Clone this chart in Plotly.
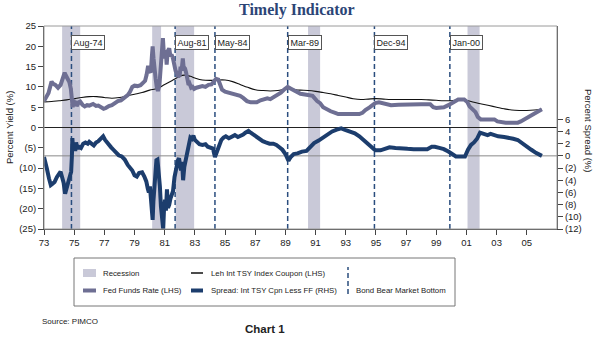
import plotly.graph_objects as go

# ---- data -------------------------------------------------------------
ff_year = [1973.0, 1973.15, 1973.3, 1973.5, 1973.6, 1973.75, 1973.93, 1974.1, 1974.25, 1974.37,
           1974.45, 1974.55, 1974.68, 1974.78, 1974.85, 1974.9, 1974.95, 1975.02, 1975.1, 1975.17,
           1975.3, 1975.4, 1975.55, 1975.7, 1975.85, 1976.0, 1976.25, 1976.45, 1976.6, 1976.8,
           1976.95, 1977.1, 1977.3, 1977.5, 1977.7, 1977.9, 1978.1, 1978.35, 1978.55, 1978.7,
           1978.85, 1979.0, 1979.2, 1979.4, 1979.55, 1979.7, 1979.8, 1979.9, 1980.0, 1980.08,
           1980.15, 1980.2, 1980.26, 1980.32, 1980.4, 1980.47, 1980.55, 1980.65, 1980.72, 1980.8,
           1980.88, 1980.93, 1981.0, 1981.07, 1981.13, 1981.2, 1981.3, 1981.38, 1981.45, 1981.55,
           1981.65, 1981.72, 1981.8, 1981.9, 1982.0, 1982.05, 1982.12, 1982.2, 1982.25, 1982.35,
           1982.42, 1982.5, 1982.58, 1982.65, 1982.75, 1982.85, 1982.95, 1983.1, 1983.3, 1983.5,
           1983.7, 1983.9, 1984.1, 1984.3, 1984.4, 1984.55, 1984.7, 1984.8, 1985.0, 1985.2,
           1985.5, 1985.8, 1986.0, 1986.2, 1986.45, 1986.7, 1986.9, 1987.1, 1987.35, 1987.6,
           1987.8, 1988.0, 1988.2, 1988.45, 1988.7, 1988.9, 1989.15, 1989.4, 1989.75, 1990.0,
           1990.5, 1990.8, 1991.1, 1991.3, 1991.5, 1991.8, 1992.0, 1992.3, 1992.5, 1993.0,
           1993.5, 1993.9, 1994.1, 1994.3, 1994.6, 1994.95, 1995.2, 1995.5, 1996.0, 1996.5,
           1997.0, 1997.5, 1998.0, 1998.6, 1998.8, 1999.0, 1999.5, 1999.8, 2000.05, 2000.3,
           2000.45, 2000.85, 2001.05, 2001.2, 2001.4, 2001.6, 2001.75, 2001.95, 2002.5, 2002.85,
           2003.05, 2003.3, 2003.6, 2004.0, 2004.4, 2004.6, 2004.9, 2005.2, 2005.5, 2005.8, 2006.0]
fed_funds = [6.5, 7.5, 8.5, 11.3, 10.8, 10.5, 9.8, 10.5, 12.0, 13.5,
             12.8, 12.0, 11.2, 9.5, 7.0, 5.0, 6.8, 6.0, 6.5, 5.3,
             6.2, 6.4, 5.6, 5.2, 5.5, 5.4, 5.8, 5.3, 5.4, 4.9,
             4.6, 4.8, 5.3, 5.5, 6.0, 6.5, 6.7, 7.3, 8.0, 8.8,
             10.0, 10.3, 10.2, 10.4, 10.8, 11.5, 13.0, 15.2, 14.0, 13.5,
             17.5, 20.0, 17.0, 15.5, 12.0, 10.0, 9.0, 10.5, 14.0, 18.0,
             22.0, 19.0, 17.0, 19.0, 15.5, 18.8, 19.5, 17.5, 18.0, 17.0,
             15.0, 14.0, 13.5, 12.5, 13.0, 15.0, 14.0, 17.0, 15.0, 14.5,
             13.5, 12.0, 10.5, 10.8, 9.8, 10.0, 9.5, 9.8, 10.0, 10.2,
             10.0, 10.5, 10.6, 11.8, 12.0, 11.8, 10.5, 9.3, 8.8, 8.6,
             8.2, 8.0, 7.8, 7.3, 6.5, 6.2, 6.3, 6.2, 6.7, 6.9,
             7.2, 7.0, 7.4, 7.9, 8.6, 9.3, 10.0, 9.5, 8.8, 8.3,
             8.0, 7.8, 6.5, 6.0, 5.0, 4.3, 4.0, 3.6, 3.3, 3.3,
             3.3, 3.3, 3.6, 4.3, 5.0, 6.0, 6.2, 5.9, 5.5, 5.6,
             5.7, 5.7, 5.7, 5.7, 5.0, 4.8, 5.0, 5.5, 6.0, 6.5,
             6.9, 6.9, 6.3, 5.2, 4.5, 3.8, 2.6, 2.0, 2.0, 2.0,
             1.5, 1.3, 1.2, 1.2, 1.2, 1.5, 2.1, 2.7, 3.3, 4.0, 4.5]

cpn_year = [1973.0, 1973.5, 1974.0, 1974.5, 1975.0, 1975.5, 1976.0, 1976.5, 1977.0, 1977.5,
            1978.0, 1978.5, 1979.0, 1979.5, 1980.0, 1980.5, 1981.0, 1981.5, 1982.0, 1982.3,
            1982.7, 1983.0, 1983.5, 1984.0, 1984.5, 1985.0, 1985.5, 1986.0, 1986.5, 1987.0,
            1987.5, 1988.0, 1988.5, 1989.0, 1989.3, 1989.7, 1990.0, 1990.5, 1991.0, 1991.5,
            1992.0, 1992.5, 1993.0, 1993.5, 1994.0, 1994.5, 1995.0, 1995.5, 1996.0, 1997.0,
            1998.0, 1998.5, 1999.0, 1999.5, 2000.0, 2000.5, 2001.0, 2001.5, 2002.0, 2002.5,
            2003.0, 2003.5, 2004.0, 2004.5, 2005.0, 2005.5, 2006.0]
tsy_coupon = [6.3, 6.4, 6.6, 6.8, 7.1, 7.4, 7.6, 7.6, 7.4, 7.2,
              7.4, 7.8, 8.2, 8.6, 9.2, 9.6, 10.6, 11.6, 12.6, 12.9,
              12.6, 12.2, 11.7, 11.6, 11.7, 11.7, 11.3, 10.6, 9.9, 9.3,
              9.1, 9.0, 9.1, 9.5, 9.6, 9.3, 9.2, 9.1, 8.9, 8.6,
              8.3, 7.9, 7.5, 7.1, 6.9, 7.0, 7.1, 7.0, 6.9, 6.9,
              6.9, 6.8, 6.7, 6.6, 6.6, 6.8, 6.7, 6.2, 5.8, 5.4,
              5.0, 4.6, 4.3, 4.2, 4.2, 4.3, 4.5]

spr_year = [1973.0, 1973.1, 1973.2, 1973.33, 1973.45, 1973.55, 1973.7, 1973.85, 1974.0, 1974.1,
            1974.2, 1974.3, 1974.4, 1974.47, 1974.55, 1974.7, 1974.8, 1974.85, 1974.88, 1974.93,
            1975.0, 1975.07, 1975.13, 1975.2, 1975.3, 1975.45, 1975.6, 1975.75, 1975.9, 1976.0,
            1976.15, 1976.3, 1976.45, 1976.6, 1976.8, 1976.92, 1977.05, 1977.25, 1977.45, 1977.6,
            1977.8, 1977.95, 1978.15, 1978.35, 1978.55, 1978.7, 1978.85, 1979.0, 1979.15, 1979.3,
            1979.5, 1979.65, 1979.78, 1979.88, 1979.95, 1980.02, 1980.08, 1980.15, 1980.2, 1980.25,
            1980.3, 1980.38, 1980.45, 1980.52, 1980.6, 1980.68, 1980.75, 1980.82, 1980.9, 1980.95,
            1981.02, 1981.08, 1981.15, 1981.22, 1981.3, 1981.38, 1981.45, 1981.55, 1981.65, 1981.72,
            1981.8, 1981.88, 1981.95, 1982.02, 1982.08, 1982.15, 1982.22, 1982.3, 1982.38, 1982.45,
            1982.52, 1982.6, 1982.7, 1982.8, 1982.9, 1983.0, 1983.15, 1983.3, 1983.5, 1983.7,
            1983.85, 1984.0, 1984.2, 1984.33, 1984.45, 1984.6, 1984.75, 1984.9, 1985.05, 1985.25,
            1985.45, 1985.65, 1985.85, 1986.0, 1986.2, 1986.35, 1986.55, 1986.7, 1986.9, 1987.1,
            1987.3, 1987.5, 1987.7, 1987.95, 1988.2, 1988.4, 1988.6, 1988.8, 1989.0, 1989.2,
            1989.35, 1989.55, 1989.8, 1990.1, 1990.4, 1990.7, 1990.9, 1991.2, 1991.5, 1991.8,
            1992.1, 1992.4, 1992.7, 1993.0, 1993.3, 1993.6, 1993.9, 1994.2, 1994.5, 1994.75,
            1994.95, 1995.3, 1995.6, 1995.9, 1996.3, 1996.7, 1997.1, 1997.5, 1998.0, 1998.4,
            1998.7, 1998.9, 1999.2, 1999.5, 1999.8, 2000.05, 2000.3, 2000.6, 2000.9, 2001.1,
            2001.3, 2001.5, 2001.7, 2001.9, 2002.2, 2002.4, 2002.6, 2002.85, 2003.1, 2003.5,
            2003.8, 2004.1, 2004.4, 2004.7, 2005.0, 2005.3, 2005.6, 2006.0]
spread = [-0.2, -1.0, -2.2, -3.7, -4.8, -4.6, -4.3, -3.5, -2.8, -2.6,
          -3.5, -4.4, -6.2, -5.5, -4.8, -3.8, -2.6, 0.0, 2.9, 1.2,
          1.8, 0.8, 2.2, 1.2, 1.5, 1.3, 2.0, 2.2, 2.0, 2.3,
          2.0, 1.7, 2.2, 2.4, 2.9, 3.2, 2.6, 1.9, 1.4, 1.0,
          0.4, 0.1, -0.1, -0.6, -1.5, -2.0, -2.4, -3.2, -3.4, -2.8,
          -2.7, -3.4, -4.2, -5.4, -6.0, -5.0, -6.5, -9.0, -10.5, -7.5,
          -5.0, -2.5, -0.7, -0.6, -2.5, -5.0, -8.3, -10.0, -12.0, -9.0,
          -7.2, -9.0, -5.5, -8.5, -8.0, -7.0, -6.5, -5.8, -3.5, -2.3,
          -1.0, -0.7, -0.4, -1.6, -2.4, -1.0, -4.0, -1.8, -0.8, 0.4,
          1.5, 2.3, 3.0, 2.8, 3.3, 2.6, 2.3, 1.9, 1.8, 1.9,
          1.5, 1.4, 1.2, -0.2, 0.6, 1.6, 2.6, 3.0, 3.2, 2.9,
          3.2, 3.4, 3.1, 3.2, 3.5, 3.8, 4.1, 3.8, 3.4, 3.2,
          2.8, 2.4, 2.2, 2.0, 2.0, 1.8, 1.4, 1.0, 0.3, -0.8,
          -0.2, 0.3, 0.4, 0.7, 0.8, 1.5, 2.1, 2.5, 3.0, 3.5,
          4.0, 4.3, 4.5, 4.2, 4.0, 3.7, 3.2, 2.6, 1.9, 1.3,
          0.9, 0.9, 1.2, 1.4, 1.3, 1.3, 1.15, 1.1, 1.1, 1.1,
          1.5, 1.5, 1.3, 1.1, 0.7, 0.3, -0.1, -0.1, -0.1, 1.0,
          1.8, 2.2, 2.8, 3.8, 3.6, 3.4, 3.6, 3.4, 3.2, 3.1,
          3.0, 2.8, 2.6, 2.0, 1.5, 1.0, 0.5, 0.0]

recession_start = [1974.2, 1980.17, 1981.72, 1990.5, 2001.07]
recession_end = [1975.4, 1980.76, 1982.95, 1991.3, 2001.87]

bottom_year = [1974.82, 1981.69, 1984.33, 1989.15, 1994.9, 1999.9]
bottom_label = ["Aug-74", "Aug-81", "May-84", "Mar-89", "Dec-94", "Jan-00"]

x_ticks = list(range(1973, 2006, 2))
x_ticktext = ["73", "75", "77", "79", "81", "83", "85", "87", "89", "91",
              "93", "95", "97", "99", "01", "03", "05"]
yield_ticks = [25, 20, 15, 10, 5, 0, -5, -10, -15, -20, -25]
yield_ticktext = ["25", "20", "15", "10", "5", "0", "(5)", "(10)", "(15)", "(20)", "(25)"]
spread_ticks = [6, 4, 2, 0, -2, -4, -6, -8, -10, -12]
spread_ticktext = ["6", "4", "2", "0", "(2)", "(4)", "(6)", "(8)", "(10)", "(12)"]

# ---- styling --------------------------------------------------------------
W, H = 595, 337
L, R, T, B = 44, 38, 26, 108
FF_COLOR = "#6e6f93"
SPREAD_COLOR = "#1c3d6d"
BAND_COLOR = "#c9c9d8"
DASH_COLOR = "#2a4d7e"
DASH_STYLE = "5px,3px"
TEXT_COLOR = "#222222"
FONT = "Liberation Sans, Arial, sans-serif"


def px_x(px):
    return (px - L) / (W - L - R)


def px_y(py):
    return (H - B - py) / (H - T - B)


fig = go.Figure()

fig.add_trace(go.Scatter(x=cpn_year, y=tsy_coupon, mode="lines", line=dict(color="#111111", width=1.1),
                         line_shape="spline", name="Leh Int TSY Index Coupon (LHS)", yaxis="y"))
fig.add_trace(go.Scatter(x=ff_year, y=fed_funds, mode="lines", line=dict(color=FF_COLOR, width=4),
                         name="Fed Funds Rate (LHS)", yaxis="y"))
fig.add_trace(go.Scatter(x=spr_year, y=spread, mode="lines", line=dict(color=SPREAD_COLOR, width=4),
                         name="Spread: Int TSY Cpn Less FF (RHS)", yaxis="y2"))

shapes = []
for s, e in zip(recession_start, recession_end):
    shapes.append(dict(type="rect", xref="x", yref="paper", x0=s, x1=e, y0=0, y1=1,
                       fillcolor=BAND_COLOR, line=dict(width=0), layer="below"))
# zero lines for each axis
shapes.append(dict(type="line", xref="paper", yref="y", x0=0, x1=1, y0=0, y1=0,
                   line=dict(color="#222222", width=1), layer="below"))
shapes.append(dict(type="line", xref="paper", yref="y2", x0=0, x1=1, y0=0, y1=0,
                   line=dict(color="#8a8a8a", width=1), layer="below"))
for xb in bottom_year:
    shapes.append(dict(type="line", xref="x", yref="paper", x0=xb, x1=xb, y0=0, y1=1,
                       line=dict(color=DASH_COLOR, width=1.5, dash=DASH_STYLE), layer="below"))
# plot frame
shapes.append(dict(type="rect", xref="paper", yref="paper", x0=0, x1=1, y0=0, y1=1,
                   line=dict(color="#9a9a9a", width=1)))

annotations = []
for xb, lab in zip(bottom_year, bottom_label):
    annotations.append(dict(x=xb, y=px_y(34.5), xref="x", yref="paper", text=lab, showarrow=False,
                            xanchor="left", yanchor="top", font=dict(family=FONT, size=9, color=TEXT_COLOR),
                            bgcolor="white", bordercolor="#555555", borderwidth=1, borderpad=1.5))

# title and axis titles
annotations.append(dict(x=px_x(297), y=px_y(10), xref="paper", yref="paper", text="<b>Timely Indicator</b>",
                        showarrow=False, xanchor="center", yanchor="middle",
                        font=dict(family="Liberation Serif, Times New Roman, serif", size=16, color="#2b4576")))
annotations.append(dict(x=px_x(9), y=px_y(128), xref="paper", yref="paper", text="Percent Yield (%)",
                        showarrow=False, textangle=-90, xanchor="center", yanchor="middle",
                        font=dict(family=FONT, size=9.5, color=TEXT_COLOR)))
annotations.append(dict(x=px_x(589), y=px_y(130), xref="paper", yref="paper", text="Percent Spread (%)",
                        showarrow=False, textangle=90, xanchor="center", yanchor="middle",
                        font=dict(family=FONT, size=9.5, color=TEXT_COLOR)))

# legend box
shapes.append(dict(type="rect", xref="paper", yref="paper", x0=px_x(74), x1=px_x(455),
                   y0=px_y(306), y1=px_y(258), line=dict(color="#777777", width=1), fillcolor="white",
                   layer="below"))
shapes.append(dict(type="rect", xref="paper", yref="paper", x0=px_x(83), x1=px_x(96),
                   y0=px_y(277), y1=px_y(269), line=dict(width=0), fillcolor=BAND_COLOR))
shapes.append(dict(type="line", xref="paper", yref="paper", x0=px_x(83), x1=px_x(96),
                   y0=px_y(290.5), y1=px_y(290.5), line=dict(color=FF_COLOR, width=4)))
shapes.append(dict(type="line", xref="paper", yref="paper", x0=px_x(191), x1=px_x(203),
                   y0=px_y(273), y1=px_y(273), line=dict(color="#111111", width=1.5)))
shapes.append(dict(type="line", xref="paper", yref="paper", x0=px_x(191), x1=px_x(203),
                   y0=px_y(290.5), y1=px_y(290.5), line=dict(color=SPREAD_COLOR, width=4)))
shapes.append(dict(type="line", xref="paper", yref="paper", x0=px_x(348), x1=px_x(348),
                   y0=px_y(294), y1=px_y(267), line=dict(color=DASH_COLOR, width=1.5, dash=DASH_STYLE)))

legend_items = [("Recession", 101, 273), ("Fed Funds Rate (LHS)", 101, 290.5),
                ("Leh Int TSY Index Coupon (LHS)", 209, 273),
                ("Spread: Int TSY Cpn Less FF (RHS)", 209, 290.5),
                ("Bond Bear Market Bottom", 354, 290.5)]
for txt, lx, ly in legend_items:
    annotations.append(dict(x=px_x(lx), y=px_y(ly), xref="paper", yref="paper", text=txt, showarrow=False,
                            xanchor="left", yanchor="middle", font=dict(family=FONT, size=7.8, color=TEXT_COLOR)))

annotations.append(dict(x=px_x(40), y=px_y(321), xref="paper", yref="paper", text="Source: PIMCO",
                        showarrow=False, xanchor="left", yanchor="middle",
                        font=dict(family=FONT, size=8, color=TEXT_COLOR)))
annotations.append(dict(x=px_x(265), y=px_y(329), xref="paper", yref="paper", text="<b>Chart 1</b>",
                        showarrow=False, xanchor="center", yanchor="middle",
                        font=dict(family=FONT, size=11.5, color=TEXT_COLOR)))

tickfont = dict(family=FONT, size=9.5, color=TEXT_COLOR)
fig.update_layout(
    width=W, height=H,
    margin=dict(l=L, r=R, t=T, b=B, pad=0),
    paper_bgcolor="white", plot_bgcolor="white",
    showlegend=False,
    shapes=shapes, annotations=annotations,
    xaxis=dict(range=[1973, 2007], tickvals=x_ticks, ticktext=x_ticktext, ticks="outside", ticklen=5,
               tickcolor="#444444", showline=True, linecolor="#444444", linewidth=1, showgrid=False,
               zeroline=False, tickfont=tickfont, automargin=False),
    yaxis=dict(range=[-25, 25], tickvals=yield_ticks, ticktext=yield_ticktext, ticks="outside", ticklen=5,
               tickcolor="#444444", showline=True, linecolor="#444444", linewidth=1, showgrid=False,
               zeroline=False, tickfont=tickfont, automargin=False),
    yaxis2=dict(range=[-12, 21.3], tickvals=spread_ticks, ticktext=spread_ticktext, overlaying="y",
                side="right", ticks="outside", ticklen=5, tickcolor="#444444", showline=True,
                linecolor="#444444", linewidth=1, showgrid=False, zeroline=False, tickfont=tickfont,
                automargin=False),
)

fig.write_html("out.html")
